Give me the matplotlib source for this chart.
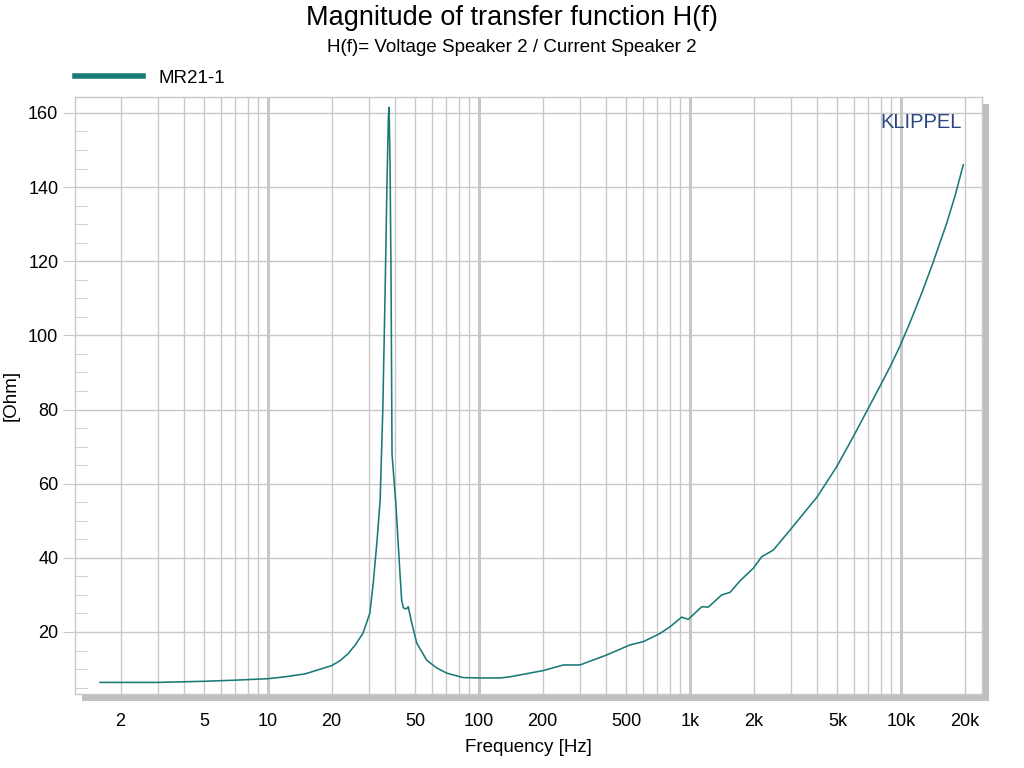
import numpy as np
import matplotlib
matplotlib.use("Agg")
import matplotlib.pyplot as plt
from matplotlib.patches import Rectangle
from matplotlib.ticker import FixedLocator, FuncFormatter

plt.rcParams['font.family'] = ['Liberation Sans', 'DejaVu Sans']

# data (impedance magnitude vs frequency)
freq_hz = [1.6, 2, 3, 5, 7, 10, 12, 15, 18, 20, 22, 24, 26, 28.2, 30.4, 31.5,
           32.8, 34.0, 35.0, 35.9, 36.6, 37.2, 37.5, 37.9, 38.3, 38.7, 40.4, 41.3,
           42.2, 43.0, 43.8, 45.1, 46.2, 48.0, 50.7, 56.5, 63, 70.3, 84, 101, 126,
           140, 202, 251, 301, 403, 519, 601, 721, 804, 913, 981, 1136, 1221, 1413,
           1549, 1726, 1995, 2187, 2483, 2979, 4012, 4958, 5943, 7127, 8000, 9017,
           9880, 11000, 12500, 14220, 16450, 18000, 19730]
ohm = [6.4, 6.4, 6.4, 6.7, 7.0, 7.4, 7.9, 8.7, 10.1, 10.9, 12.3, 14.2, 16.6, 19.7,
       25.1, 33.0, 44.0, 55.6, 80.0, 112.0, 140.0, 159.0, 161.5, 145.0, 115.0, 68.0,
       54.3, 44.8, 35.9, 28.6, 26.5, 26.2, 26.8, 22.4, 17.0, 12.4, 10.3, 8.9, 7.7,
       7.6, 7.6, 7.9, 9.6, 11.1, 11.1, 13.8, 16.5, 17.4, 19.6, 21.4, 24.0, 23.4,
       26.8, 26.7, 30.0, 30.7, 33.8, 37.2, 40.3, 42.1, 47.5, 56.5, 64.6, 72.7, 81.2,
       86.6, 92.3, 97.1, 103.3, 111.2, 119.8, 130.2, 137.5, 146.0]
series_name = "MR21-1"

decades = [10, 100, 1000, 10000]
sub_ticks = [m * 10.0 ** e for e in range(0, 5) for m in range(1, 10)]
sub_ticks = [t for t in sub_ticks if t not in decades]
labelled = {2: "2", 5: "5", 10: "10", 20: "20", 50: "50", 100: "100", 200: "200",
            500: "500", 1000: "1k", 2000: "2k", 5000: "5k", 10000: "10k", 20000: "20k"}

W, H = 1024, 768
fig = plt.figure(figsize=(W / 100, H / 100), dpi=100)
L, R, T, B = 75, 982, 97, 694
ax = fig.add_axes([L / W, 1 - B / H, (R - L) / W, (B - T) / H])
ax.set_zorder(1)

# drop shadow of the plot frame
shadow = Rectangle(((L + 7) / W, 1 - (B + 7) / H), (R - L) / W, (B - T) / H,
                   transform=fig.transFigure, facecolor='#c0c0c0', edgecolor='none', zorder=0)
fig.patches.append(shadow)

line_col = '#1a7a76'
ax.plot(freq_hz, ohm, color=line_col, lw=1.15, label=series_name, zorder=3)

ax.set_xscale('log')
ax.set_xlim(1.217, 24200)
ax.set_ylim(3.27, 164.3)

grid_col = '#c8c8c8'
ax.xaxis.set_major_locator(FixedLocator(decades))
ax.xaxis.set_minor_locator(FixedLocator(sub_ticks))
fmt = FuncFormatter(lambda v, p: labelled.get(int(round(v)), ""))
ax.xaxis.set_major_formatter(fmt)
ax.xaxis.set_minor_formatter(fmt)
ax.tick_params(axis='x', which='both', length=0, pad=14, labelsize=13)
ax.grid(True, axis='x', which='major', color=grid_col, lw=2.2)
ax.grid(True, axis='x', which='minor', color=grid_col, lw=1)

ax.set_yticks(range(20, 161, 20))
ax.set_yticks(range(5, 165, 5), minor=True)
ax.tick_params(axis='y', which='major', direction='out', length=9, color=grid_col,
               labelsize=13, pad=3)
ax.tick_params(axis='y', which='minor', direction='in', length=9, color=grid_col)
ax.grid(True, axis='y', which='major', color=grid_col, lw=1)
ax.set_axisbelow(True)
for s in ax.spines.values():
    s.set_color(grid_col)
    s.set_linewidth(1)

ax.set_xlabel("Frequency [Hz]", fontsize=13.5, va='center')
ax.xaxis.set_label_coords(0.5, -(748 - B) / (B - T))
ax.set_ylabel("[Ohm]", fontsize=13.5, va='center')
ax.yaxis.set_label_coords(-(L - 11) / (R - L), 0.5)

fig.text(0.5, 1 - 18 / H, "Magnitude of transfer function H(f)", ha='center', va='center',
         fontsize=19.5)
fig.text(0.5, 1 - 48 / H, "H(f)= Voltage Speaker 2 / Current Speaker 2", ha='center',
         va='center', fontsize=13.5)
ax.text((962 - L) / (R - L), 1 - (123 - T) / (B - T), "KLIPPEL", transform=ax.transAxes,
        ha='right', va='center', fontsize=14.5, color='#2c4584')

leg = fig.legend(loc='center left', bbox_to_anchor=(L / W, 1 - 78 / H), frameon=False,
                 borderpad=0, borderaxespad=0, handlelength=3.6, handletextpad=0.85,
                 fontsize=13.5)
for h in leg.legend_handles:
    h.set_linewidth(4)

fig.savefig("out.png", dpi=100)
